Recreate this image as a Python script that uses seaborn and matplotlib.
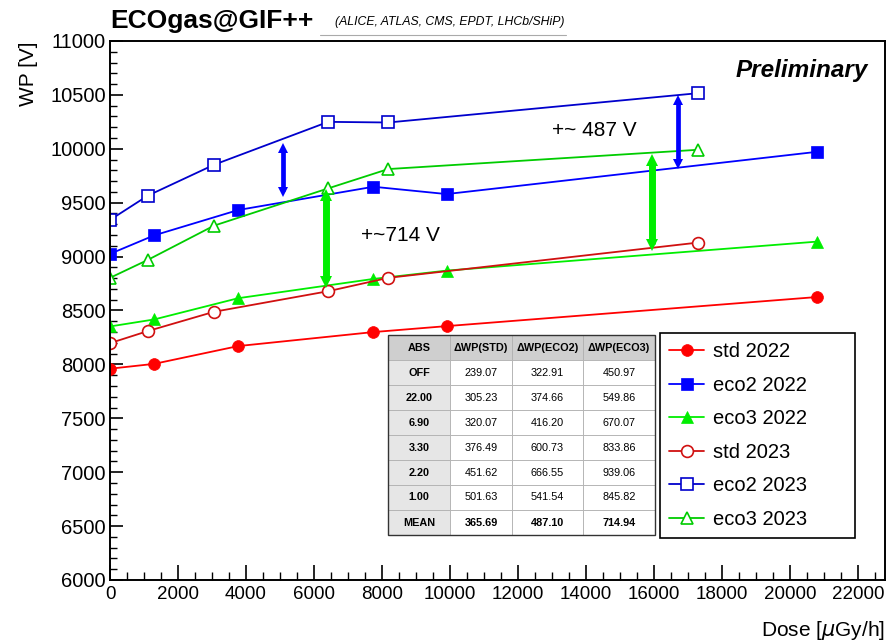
import numpy as np
import pandas as pd
import matplotlib
matplotlib.use("Agg")
import matplotlib.pyplot as plt
from matplotlib.ticker import MultipleLocator
import seaborn as sns

# ---------------- data ----------------
dose_2022 = [0, 1300, 3770, 7750, 9900, 20800]
wp_std_2022 = [7960, 8005, 8170, 8300, 8355, 8625]
wp_eco2_2022 = [9025, 9197, 9432, 9648, 9580, 9972]
wp_eco3_2022 = [8352, 8417, 8614, 8793, 8870, 9139]

dose_2023 = [0, 1110, 3060, 6420, 8185, 17300]
wp_std_2023 = [8197, 8309, 8488, 8679, 8803, 9130]
wp_eco2_2023 = [9340, 9565, 9852, 10250, 10244, 10516]
wp_eco3_2023 = [8803, 8969, 9287, 9633, 9812, 9991]

series_names = ["std 2022", "eco2 2022", "eco3 2022", "std 2023", "eco2 2023", "eco3 2023"]

# double arrows (dose, low, high)
arrow_dose = [5100, 16700, 6350, 15950]
arrow_low = [9570, 9830, 8740, 9080]
arrow_high = [10030, 10480, 9600, 9920]

# table
table_cols = ["ABS", "ΔWP(STD)", "ΔWP(ECO2)", "ΔWP(ECO3)"]
abs_labels = ["OFF", "22.00", "6.90", "3.30", "2.20", "1.00", "MEAN"]
dwp_std = ["239.07", "305.23", "320.07", "376.49", "451.62", "501.63", "365.69"]
dwp_eco2 = ["322.91", "374.66", "416.20", "600.73", "666.55", "541.54", "487.10"]
dwp_eco3 = ["450.97", "549.86", "670.07", "833.86", "939.06", "845.82", "714.94"]

# ---------------- style ----------------
sns.set_theme(style="ticks")
plt.rcParams["font.family"] = ["Liberation Sans", "DejaVu Sans"]
plt.rcParams["mathtext.fontset"] = "dejavusans"
plt.rcParams["text.color"] = "black"
plt.rcParams["axes.labelcolor"] = "black"
plt.rcParams["xtick.color"] = "black"
plt.rcParams["ytick.color"] = "black"
plt.rcParams["xtick.direction"] = "in"
plt.rcParams["ytick.direction"] = "in"

W, H = 894, 643
fig = plt.figure(figsize=(W / 100, H / 100), dpi=100)
x0, x1, y0, y1 = 110, 885, 41, 580
ax = fig.add_axes([x0 / W, 1 - y1 / H, (x1 - x0) / W, (y1 - y0) / H])

styles = [
    (dose_2022, wp_std_2022, "#ff0000", "o", True),
    (dose_2022, wp_eco2_2022, "#0000ff", "s", True),
    (dose_2022, wp_eco3_2022, "#00ee00", "^", True),
    (dose_2023, wp_std_2023, "#d01010", "o", False),
    (dose_2023, wp_eco2_2023, "#0000cc", "s", False),
    (dose_2023, wp_eco3_2023, "#00cc00", "^", False),
]

handles = []
for name, (xs, ys, col, mk, filled) in zip(series_names, styles):
    df = pd.DataFrame({"dose": xs, "wp": ys})
    sns.lineplot(
        data=df, x="dose", y="wp", ax=ax, color=col, lw=1.3,
        marker=mk, markersize=8.5 if mk != "^" else 9,
        markerfacecolor=col if filled else "white",
        markeredgecolor=col, markeredgewidth=1.2 if not filled else 0.5,
        label=name, legend=False, sort=False,
    )
    handles.append(ax.lines[-1])

# double arrows: shaft + small triangular heads
arrow_cols = ["#0000ff", "#0000ff", "#00ee00", "#00ee00"]
shaft_lws = [3.4, 3.4, 5.0, 5.0]
head_ms = [7.5, 7.5, 8.5, 8.5]
for xa, lo, hi, c, lw, ms in zip(arrow_dose, arrow_low, arrow_high, arrow_cols, shaft_lws, head_ms):
    pad = 40
    ax.plot([xa, xa], [lo + pad, hi - pad], color=c, lw=lw, solid_capstyle="butt", zorder=4)
    ax.plot([xa], [hi - 25], marker="^", ms=ms, color=c, mec=c, mew=0, zorder=4)
    ax.plot([xa], [lo + 25], marker="v", ms=ms, color=c, mec=c, mew=0, zorder=4)

ax.text(14260, 10167, "+~ 487 V", fontsize=15, ha="center", va="center")
ax.text(8530, 9194, "+~714 V", fontsize=15, ha="center", va="center")
ax.text((868 - x0) / (x1 - x0), 0.945, "Preliminary", transform=ax.transAxes, fontsize=17.5,
        fontweight="bold", fontstyle="italic", ha="right", va="center")

# axes
ax.set_xlim(0, 22800)
ax.set_ylim(6000, 11000)
ax.xaxis.set_major_locator(MultipleLocator(2000))
ax.xaxis.set_minor_locator(MultipleLocator(500))
ax.yaxis.set_major_locator(MultipleLocator(500))
ax.yaxis.set_minor_locator(MultipleLocator(100))
ax.tick_params(axis="x", which="major", direction="in", length=11, width=1.2,
               labelsize=13.5, pad=4, top=False)
ax.tick_params(axis="x", which="minor", direction="in", length=5.5, width=1.0, top=False)
ax.tick_params(axis="y", which="major", direction="in", length=9, width=1.2,
               labelsize=14.5, pad=3, right=False)
ax.tick_params(axis="y", which="minor", direction="in", length=5, width=1.0, right=False)
for s in ax.spines.values():
    s.set_color("black")
    s.set_linewidth(1.4)
ax.set_xlabel("")
ax.set_ylabel("")
fig.text(885 / W, 1 - 630 / H, r"Dose [$\mu$Gy/h]", fontsize=15, ha="right", va="center")
fig.text(28 / W, 1 - 41 / H, "WP [V]", fontsize=15, rotation=90, ha="center", va="top")

# title
fig.text(110 / W, 1 - 21 / H, "ECOgas@GIF++", fontsize=19, fontweight="bold",
         ha="left", va="center")
fig.text(335 / W, 1 - 22 / H, "(ALICE, ATLAS, CMS, EPDT, LHCb/SHiP)", fontsize=8.8,
         fontstyle="italic", ha="left", va="center")
fig.add_artist(plt.Line2D([320 / W, 566 / W], [1 - 35 / H, 1 - 35 / H],
                          color="#aaaaaa", lw=0.8))

# legend
lx0, ly_top, lx1, ly_bot = 660, 333, 855, 537
leg = ax.legend(handles=handles, labels=series_names, loc="upper left",
                bbox_to_anchor=((lx0 - x0) / (x1 - x0), (y1 - ly_bot) / (y1 - y0),
                                (lx1 - lx0) / (x1 - x0), (ly_bot - ly_top) / (y1 - y0)),
                mode="expand",
                borderaxespad=0, fontsize=14.5, frameon=True, fancybox=False,
                edgecolor="black", framealpha=1, handlelength=1.75,
                labelspacing=0.72, borderpad=0.45, handletextpad=0.45)
leg.get_frame().set_linewidth(1.2)

# table
cell_text = [list(r) for r in zip(abs_labels, dwp_std, dwp_eco2, dwp_eco3)]
tb = ax.table(cellText=cell_text, colLabels=table_cols,
              bbox=[(388 - x0) / (x1 - x0), (y1 - 535) / (y1 - y0),
                    (655 - 388) / (x1 - x0), (535 - 335) / (y1 - y0)],
              cellLoc="center", colWidths=[62, 62, 71, 72])
tb.auto_set_font_size(False)
for (r, c), cell in tb.get_celld().items():
    cell.set_fontsize(7.8)
    cell.set_edgecolor("#b0b0b0")
    cell.set_linewidth(0.6)
    if r == 0:
        cell.set_facecolor("#cfcfcf")
        cell.get_text().set_fontweight("bold")
    elif c == 0:
        cell.set_facecolor("#e6e6e6")
        cell.get_text().set_fontweight("bold")
    else:
        cell.set_facecolor("white")
    if r == len(abs_labels):
        cell.get_text().set_fontweight("bold")
tb.set_zorder(5)
ax.add_patch(plt.Rectangle(((388 - x0) / (x1 - x0), (y1 - 535) / (y1 - y0)),
                           (655 - 388) / (x1 - x0), (535 - 335) / (y1 - y0),
                           transform=ax.transAxes, fill=False, edgecolor="#333333",
                           lw=1.0, zorder=6))

fig.savefig("out.png", dpi=100)
